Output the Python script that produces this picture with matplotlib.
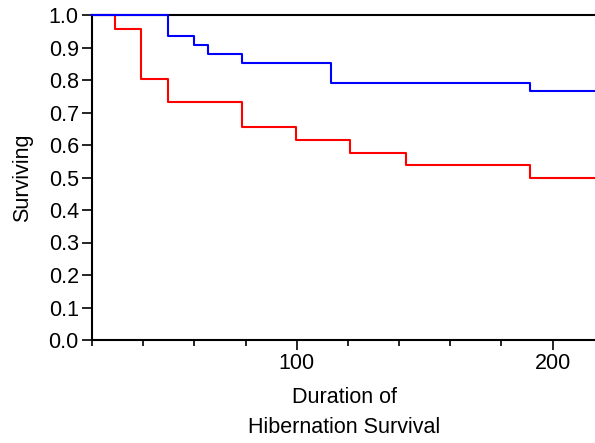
import matplotlib
matplotlib.use("Agg")
import matplotlib.pyplot as plt
from matplotlib.ticker import MultipleLocator

# Kaplan-Meier style step data (time, survival after step)
blue_t = [20, 49.5, 59.7, 65.4, 78.6, 113.3, 191.1, 217]
blue_s = [1.0, 0.936, 0.909, 0.881, 0.853, 0.792, 0.765, 0.765]

red_t = [20, 29.0, 39.2, 49.5, 78.7, 99.6, 120.8, 142.5, 191.1, 217]
red_s = [1.0, 0.958, 0.802, 0.732, 0.654, 0.615, 0.575, 0.537, 0.497, 0.497]

y_ticks = [0.0, 0.1, 0.2, 0.3, 0.4, 0.5, 0.6, 0.7, 0.8, 0.9, 1.0]

plt.rcParams["font.family"] = ["Liberation Sans", "DejaVu Sans"]

fig = plt.figure(figsize=(5.95, 4.43), dpi=100)
ax = fig.add_axes([92 / 595, 1 - 340 / 443, 1 - 92 / 595 + 0.002, 325 / 443])

ax.step(red_t, red_s, where="post", color="#ff0000", lw=1.5, zorder=3, clip_on=False)
ax.step(blue_t, blue_s, where="post", color="#0000ff", lw=1.5, zorder=4, clip_on=False)

ax.set_xlim(20, 217)
ax.set_ylim(0, 1.0)
ax.set_yticks(y_ticks)
ax.set_yticklabels([f"{v:.1f}" for v in y_ticks])
ax.xaxis.set_major_locator(MultipleLocator(100))
ax.xaxis.set_minor_locator(MultipleLocator(20))

ax.spines["right"].set_visible(False)
for s in ["left", "bottom", "top"]:
    ax.spines[s].set_linewidth(1.5)
    ax.spines[s].set_color("black")

ax.tick_params(axis="both", which="major", direction="out", length=7.5, width=1.2,
               labelsize=15.5, pad=2)
ax.tick_params(axis="x", which="minor", direction="out", length=4, width=1.2)

ax.set_ylabel("Surviving", fontsize=15.5, labelpad=11)
ax.set_xlabel("Duration of\nHibernation Survival", fontsize=15.5, labelpad=9,
              linespacing=1.6)

fig.savefig("out.png", dpi=100)
